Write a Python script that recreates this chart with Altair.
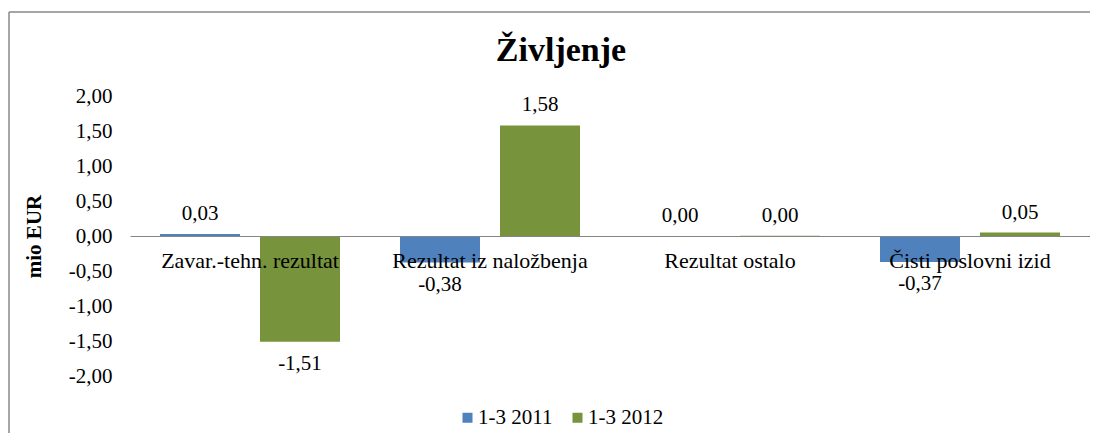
import altair as alt
import pandas as pd

title_text = "Življenje"
categories = ["Zavar.-tehn. rezultat", "Rezultat iz naložbenja", "Rezultat ostalo", "Čisti poslovni izid"]
series = ["1-3 2011", "1-3 2012"]
values_2011 = [0.03, -0.38, 0.00, -0.37]
values_2012 = [-1.51, 1.58, 0.004, 0.05]
y_ticks = [-2.0, -1.5, -1.0, -0.5, 0.0, 0.5, 1.0, 1.5, 2.0]
colors = ["#4F81BD", "#77933C"]

rows = []
for s, vals in zip(series, [values_2011, values_2012]):
    for c, v in zip(categories, vals):
        rows.append({"category": c, "series": s, "value": v})
df = pd.DataFrame(rows)

FONT = "Liberation Serif"

x_enc = alt.X(
    "category:N", sort=categories,
    scale=alt.Scale(paddingInner=0.25, paddingOuter=0.125),
    axis=alt.Axis(title=None, orient="bottom", offset=-140, domainColor="#868686",
                  domainWidth=1, ticks=False, grid=False, labelAngle=0, labelFont=FONT,
                  labelFontSize=22, labelColor="black", labelPadding=14,
                  labelLimit=400, labelOverlap=False, zindex=1),
)
y_enc = alt.Y(
    "value:Q",
    scale=alt.Scale(domain=[-2, 2], nice=False, zero=False),
    axis=alt.Axis(values=y_ticks, format=".2f", title="mio EUR", grid=False,
                  domain=False, ticks=False, labelFont=FONT, labelFontSize=21,
                  labelColor="black", labelPadding=18, titleFont=FONT,
                  titleFontSize=21, titleFontWeight="bold", titleColor="black",
                  titlePadding=24),
)
xoff = alt.XOffset("series:N", sort=series, scale=alt.Scale(paddingInner=0.2, paddingOuter=0))

base = alt.Chart(df)

bars = base.mark_bar().encode(
    x=x_enc, y=y_enc, xOffset=xoff,
    color=alt.Color("series:N", sort=series,
                    scale=alt.Scale(domain=series, range=colors),
                    legend=alt.Legend(title=None, orient="none", legendX=327, legendY=311,
                                      direction="horizontal", symbolType="square",
                                      symbolSize=100, symbolStrokeWidth=0,
                                      labelFont=FONT, labelFontSize=21, labelColor="black",
                                      columnPadding=14, labelOffset=0)),
)

pos_labels = base.transform_filter("datum.value >= 0").mark_text(
    dy=-20, baseline="middle", font=FONT, fontSize=21, color="black"
).encode(x=x_enc, y=y_enc, xOffset=xoff, text=alt.Text("value:Q", format=".2f"))

neg_labels = base.transform_filter("datum.value < 0").mark_text(
    dy=22, baseline="middle", font=FONT, fontSize=21, color="black"
).encode(x=x_enc, y=y_enc, xOffset=xoff, text=alt.Text("value:Q", format=".2f"))

one = alt.Data(values=[{"f": 1}])
frame_top = alt.Chart(one).mark_rule(color="#888888", strokeWidth=1.5).encode(
    x=alt.value(-121), x2=alt.value(1400), y=alt.value(-84))
frame_left = alt.Chart(one).mark_rule(color="#888888", strokeWidth=1.5).encode(
    x=alt.value(-121), y=alt.value(-84), y2=alt.value(700))

title = alt.Chart(alt.Data(values=[{"t": title_text}])).mark_text(
    font=FONT, fontSize=34, fontWeight="bold", color="black",
    align="center", baseline="alphabetic"
).encode(x=alt.value(431), y=alt.value(-35), text="t:N")

chart = alt.layer(frame_top, frame_left, bars, pos_labels, neg_labels, title).properties(
    width=960, height=280,
    autosize=alt.AutoSizeParams(type="none"),
    padding={"left": 122, "top": 88, "right": 0, "bottom": 57},
    background="white",
).configure(
    font=FONT,
    view=alt.ViewConfig(stroke="white", strokeWidth=2),
    locale={"number": {"decimal": ",", "thousands": ".", "grouping": [3],
                       "currency": ["", " €"], "minus": "-"}},
)

chart.save("out.html", embed_options={"renderer": "svg", "actions": False})
